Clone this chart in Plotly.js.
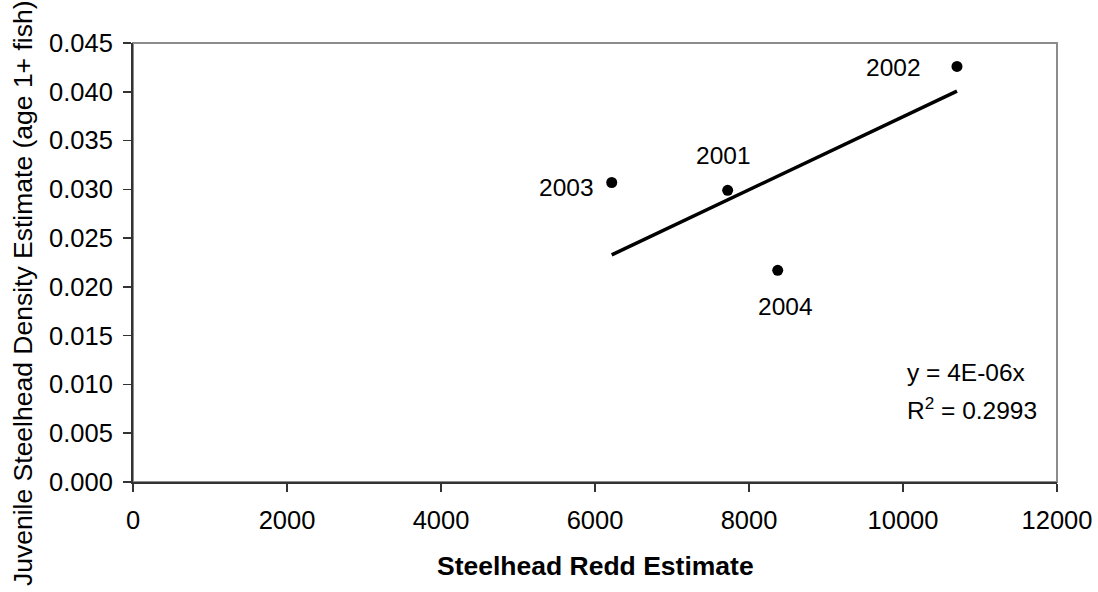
<!DOCTYPE html>
<html>
<head>
<meta charset="utf-8">
<script src="https://cdn.plot.ly/plotly-3.0.1.min.js"></script>
<style>html,body{margin:0;padding:0;background:#fff;}#chart{width:1098px;height:592px;}</style>
</head>
<body>
<div id="chart"></div>
<script>
const years = ["2001", "2002", "2003", "2004"];
const reddEstimate = [7723, 10701, 6217, 8373];
const juvenileDensity = [0.0299, 0.0426, 0.0307, 0.0217];
const equationText = "y = 4E-06x";
const r2Text = "R<sup>2</sup> = 0.2993";
const xTitle = "Steelhead Redd Estimate";
const yTitle = "Juvenile Steelhead Density Estimate (age 1+ fish)";

// label placement per point (style only)
const labelStyle = {
  "2001": {xanchor: "center", xshift: -4, yshift: 35},
  "2002": {xanchor: "right", xshift: -34, yshift: -1},
  "2003": {xanchor: "right", xshift: -16, yshift: -5},
  "2004": {xanchor: "center", xshift: 8, yshift: -36}
};

// linear trendline through origin (least squares)
let sxy = 0, sxx = 0;
for (let i = 0; i < reddEstimate.length; i++) {
  sxy += reddEstimate[i] * juvenileDensity[i];
  sxx += reddEstimate[i] * reddEstimate[i];
}
const slope = sxy / sxx;
const xMin = Math.min(...reddEstimate), xMax = Math.max(...reddEstimate);

const font = "'Liberation Sans', Arial, sans-serif";

const traces = [
  {
    x: [xMin, xMax], y: [slope * xMin, slope * xMax],
    mode: "lines", type: "scatter",
    line: {color: "#000", width: 3.5},
    hoverinfo: "skip"
  },
  {
    x: reddEstimate, y: juvenileDensity,
    mode: "markers", type: "scatter",
    marker: {color: "#000", size: 11}
  }
];

const annotations = years.map((yr, i) => Object.assign({
  x: reddEstimate[i], y: juvenileDensity[i], xref: "x", yref: "y",
  text: yr, showarrow: false, yanchor: "middle",
  font: {family: font, size: 24.5, color: "#000"}
}, labelStyle[yr]));

annotations.push({
  xref: "paper", yref: "paper", x: (905 - 133) / 924, y: (482 - 372) / 439,
  xanchor: "left", yanchor: "middle", align: "left", showarrow: false,
  text: equationText, font: {family: font, size: 24.5, color: "#000"}
});
annotations.push({
  xref: "paper", yref: "paper", x: (905 - 133) / 924, y: (482 - 408) / 439,
  xanchor: "left", yanchor: "middle", align: "left", showarrow: false,
  text: r2Text, font: {family: font, size: 24.5, color: "#000"}
});
annotations.push({
  xref: "paper", yref: "paper", x: 0.5, y: (482 - 566) / 439,
  xanchor: "center", yanchor: "middle", showarrow: false,
  text: "<b>" + xTitle + "</b>", font: {family: font, size: 26.5, color: "#000"}
});
annotations.push({
  xref: "paper", yref: "paper", x: (23 - 133) / 924, y: (482 - 293) / 439,
  xanchor: "center", yanchor: "middle", showarrow: false, textangle: -90,
  text: yTitle, font: {family: font, size: 26.5, color: "#000"}
});

const layout = {
  width: 1098, height: 592,
  margin: {l: 133, r: 41, t: 43, b: 110, pad: 0},
  paper_bgcolor: "#fff", plot_bgcolor: "#fff",
  showlegend: false,
  font: {family: font, size: 25, color: "#000"},
  xaxis: {
    range: [0, 12000], dtick: 2000, tick0: 0, tickformat: "d",
    showgrid: false, zeroline: false,
    showline: true, linecolor: "#333", linewidth: 2,
    ticks: "outside", ticklen: 8, tickwidth: 1.5, tickcolor: "#333",
    ticklabelstandoff: 6,
    tickfont: {family: font, size: 25.5, color: "#000"}
  },
  yaxis: {
    range: [0, 0.045], dtick: 0.005, tick0: 0, tickformat: ".3f",
    showgrid: false, zeroline: false,
    showline: true, linecolor: "#333", linewidth: 2,
    ticks: "outside", ticklen: 8, tickwidth: 1.5, tickcolor: "#333",
    ticklabelstandoff: 5,
    tickfont: {family: font, size: 25.5, color: "#000"}
  },
  shapes: [{
    type: "rect", xref: "paper", yref: "paper", x0: 0, y0: 0, x1: 1, y1: 1,
    line: {color: "#8c8c8c", width: 2}, layer: "below"
  }],
  annotations: annotations
};

Plotly.newPlot("chart", traces, layout, {displayModeBar: false, staticPlot: true});
</script>
</body>
</html>
